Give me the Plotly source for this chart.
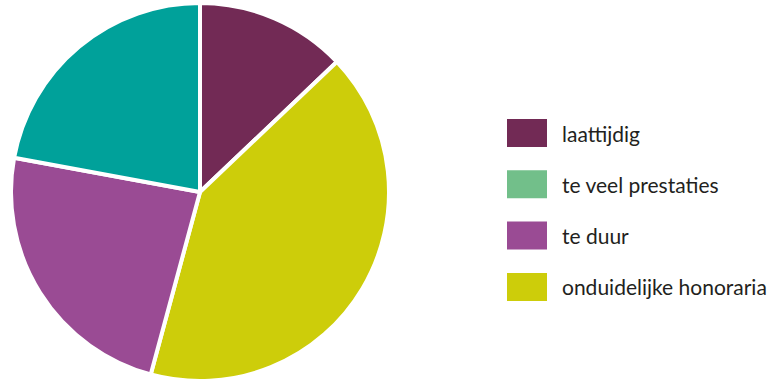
import plotly.graph_objects as go

slice_labels = ["laattijdig", "onduidelijke honoraria", "te duur", "te veel prestaties"]
slice_values = [12.9, 41.3, 23.7, 22.1]
slice_colors = ["#722A55", "#CDCD0A", "#9A4B94", "#00A19A"]

legend_labels = ["laattijdig", "te veel prestaties", "te duur", "onduidelijke honoraria"]
legend_colors = ["#722A55", "#72BF8A", "#9A4B94", "#CDCD0A"]

W, H = 773, 381
cx, cy, r = 200, 193, 190

fig = go.Figure()
fig.add_trace(go.Pie(
    labels=slice_labels,
    values=slice_values,
    marker=dict(colors=slice_colors, line=dict(color="white", width=4)),
    sort=False,
    direction="clockwise",
    rotation=0,
    textinfo="none",
    hoverinfo="label+percent",
    showlegend=False,
    domain=dict(x=[(cx - r) / W, (cx + r) / W], y=[max(0, (H - cy - r) / H), min(1, (H - cy + r) / H)]),
))

y0 = 133
step = 51.3
for i, (lab, col) in enumerate(zip(legend_labels, legend_colors)):
    yc = y0 + i * step
    fig.add_shape(type="rect", xref="paper", yref="paper",
                  x0=507 / W, x1=547 / W,
                  y0=(H - (yc + 14)) / H, y1=(H - (yc - 14)) / H,
                  fillcolor=col, line=dict(width=0))
    fig.add_annotation(xref="paper", yref="paper", x=560 / W, y=(H - yc) / H,
                       text=lab, showarrow=False, xanchor="left", yanchor="middle",
                       font=dict(family="Lato", size=21, color="#231F20"))

fig.update_layout(width=W, height=H, margin=dict(l=0, r=0, t=0, b=0),
                  paper_bgcolor="white", plot_bgcolor="white")
fig.write_html("out.html")
